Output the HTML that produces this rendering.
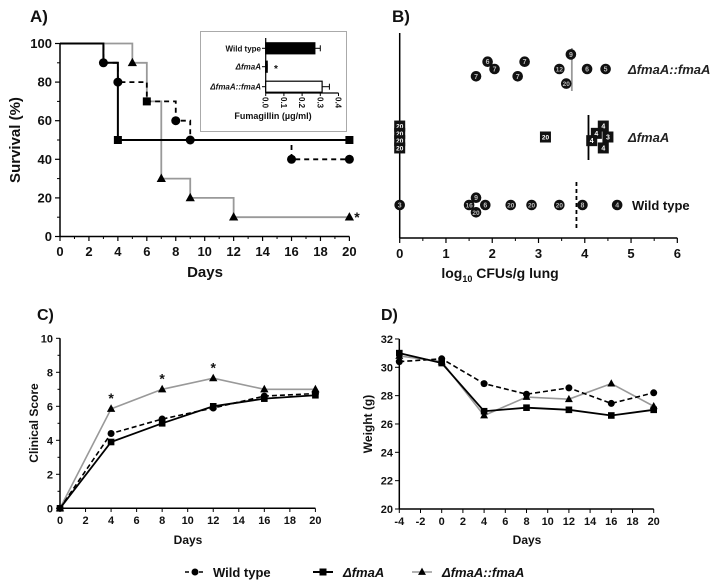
<!DOCTYPE html>
<html><head><meta charset="utf-8">
<style>
html,body{margin:0;padding:0;background:#fff;}
svg{display:block;font-family:"Liberation Sans",Arial,sans-serif;font-weight:bold;}
</style></head>
<body>
<svg id="fig" width="715" height="584" viewBox="0 0 715 584" xmlns="http://www.w3.org/2000/svg"></svg>
<script>
// ---------- Panel A data ----------
const aWtSteps = [[0,100],[3,90],[4,80],[6,70],[8,60],[9,50],[16,40],[20,40]];
const aKoSteps = [[0,100],[3,90],[4,50],[20,50]];
const aCompSteps = [[0,100],[5,90],[6,70],[7,30],[9,20],[12,10],[20,10]];
const aWtMarks = [[3,90],[4,80],[8,60],[9,50],[16,40],[20,40]];
const aKoMarks = [[4,50],[6,70],[20,50]];
const aCompMarks = [[5,90],[7,30],[9,20],[12,10],[20,10]];
const aXTicks = [0,2,4,6,8,10,12,14,16,18,20];
const aYTicks = [0,20,40,60,80,100];
// inset
const insetCats = ["Wild type","ΔfmaA","ΔfmaA::fmaA"];
const insetVals = [0.27,0.005,0.31];
const insetErr = [0.03,0.003,0.04];
const insetTicks = ["0.0","0.1","0.2","0.3","0.4"];
// ---------- Panel B data ----------
const bXTicks = [0,1,2,3,4,5,6];
const bCompX = [3.7,1.9,2.7,2.05,3.45,4.05,4.45,1.65,2.55,3.6];
const bCompRow = [-2,-1,-1,0,0,0,0,1,1,2];
const bCompLbl = ["9","6","7","7","12","6","5","7","7","20"];
const bKoX = [0,0,0,0,3.15,4.4,4.25,4.5,4.15,4.4];
const bKoRow = [-1.5,-0.5,0.5,1.5,0,-1.5,-0.5,0,0.5,1.5];
const bKoLbl = ["20","20","20","20","20","4","4","3","4","4"];
const bWtX = [0,1.65,1.5,1.85,2.4,2.85,3.45,3.95,4.7,1.65];
const bWtRow = [0,-1,0,0,0,0,0,0,0,1];
const bWtLbl = ["3","9","16","6","20","20","20","8","4","20"];
const bMedians = [3.72,4.08,3.82];
// ---------- Panel C data ----------
const cDays = [0,4,8,12,16,20];
const cWt = [0,4.4,5.25,5.9,6.6,6.75];
const cKo = [0,3.9,5.0,6.0,6.45,6.65];
const cComp = [0,5.85,7.0,7.65,7.0,7.0];
const cStars = [4,8,12];
const cYTicks = [0,2,4,6,8,10];
// ---------- Panel D data ----------
const dDays = [-4,0,4,8,12,16,20];
const dWt = [30.4,30.6,28.85,28.1,28.55,27.45,28.2];
const dKo = [31.0,30.3,26.9,27.15,27.0,26.6,27.0];
const dComp = [30.8,30.4,26.6,27.9,27.75,28.85,27.25];
const dXTicks = [-4,-2,0,2,4,6,8,10,12,14,16,18,20];
const dYTicks = [20,22,24,26,28,30,32];

const NS="http://www.w3.org/2000/svg";
const svg=document.getElementById('fig');
function el(tag,attrs,parent,text){
  const e=document.createElementNS(NS,tag);
  for(const k in attrs)e.setAttribute(k,attrs[k]);
  if(text!==undefined)e.textContent=text;
  (parent||svg).appendChild(e);return e;
}
function grp(name){const g=el('g',{});
  
  
  return g;}
function txt(g,x,y,s,size,anchor,extra){
  const t=el('text',Object.assign({x:x,y:y,'font-size':size,'text-anchor':anchor||'middle',fill:'#111'},extra||{}),g,s);
  return t;}
function marker(g,type,x,y,r,fill){
  if(type==='c')return el('circle',{cx:x,cy:y,r:r,fill:fill||'#000'},g);
  if(type==='s')return el('rect',{x:x-r,y:y-r,width:2*r,height:2*r,fill:fill||'#000'},g);
  return el('polygon',{points:`${x},${y-r*1.2} ${x-r*1.1},${y+r*0.8} ${x+r*1.1},${y+r*0.8}`,fill:fill||'#000'},g);
}
function stepPath(pts,sx,sy){let d=`M${sx(pts[0][0])},${sy(pts[0][1])}`;
  for(let i=1;i<pts.length;i++){d+=` H${sx(pts[i][0])} V${sy(pts[i][1])}`;}return d;}
function linePath(xs,ys,sx,sy){return xs.map((x,i)=>(i?'L':'M')+sx(x)+','+sy(ys[i])).join(' ');}

// ===== Panel A =====
(function(){
  const g=grp('panel-a');
  const sx=d=>60+d*14.47, sy=v=>236.5-v*1.93;
  txt(g,30,22,'A)',17,'start',{});
  el('line',{x1:60,y1:sy(100),x2:60,y2:236.5,stroke:'#000','stroke-width':1.5},g);
  el('line',{x1:60,y1:236.5,x2:sx(20),y2:236.5,stroke:'#000','stroke-width':1.5},g);
  aYTicks.forEach(v=>{el('line',{x1:55,x2:60,y1:sy(v),y2:sy(v),stroke:'#000','stroke-width':1.2},g);
    txt(g,52,sy(v)+4.5,String(v),13,'end');});
  for(let v=10;v<100;v+=20)el('line',{x1:57,x2:60,y1:sy(v),y2:sy(v),stroke:'#000'},g);
  aXTicks.forEach(v=>{el('line',{x1:sx(v),x2:sx(v),y1:236.5,y2:241,stroke:'#000','stroke-width':1.2},g);
    txt(g,sx(v),256,String(v),13);});
  for(let v=1;v<20;v+=2)el('line',{x1:sx(v),x2:sx(v),y1:236.5,y2:239,stroke:'#000'},g);
  txt(g,205,277,'Days',15,'middle',{});
  txt(g,0,0,'Survival (%)',15,'middle',{transform:'translate(20,140) rotate(-90)',});
  const c=el('path',{d:stepPath(aCompSteps,sx,sy),fill:'none',stroke:'#999','stroke-width':1.8},g);
  
  const k=el('path',{d:stepPath(aKoSteps,sx,sy),fill:'none',stroke:'#000','stroke-width':2},g);
  
  const w=el('path',{d:stepPath(aWtSteps,sx,sy),fill:'none',stroke:'#000','stroke-width':1.8,'stroke-dasharray':'5,4'},g);
  
  aWtMarks.forEach(p=>marker(g,'c',sx(p[0]),sy(p[1]),4.5));
  aKoMarks.forEach(p=>marker(g,'s',sx(p[0]),sy(p[1]),4));
  aCompMarks.forEach(p=>marker(g,'t',sx(p[0]),sy(p[1]),4.2));
  txt(g,357,222,'*',14,'middle');
  // inset
  const ig=grp('inset-fumagillin');
  el('rect',{x:200.5,y:31.5,width:146,height:100,fill:'#fff',stroke:'#aaa','stroke-width':1},ig);
  const ix=v=>265.7+v*182;
  const iy=[48.3,66.7,86.7];
  el('line',{x1:265.7,x2:265.7,y1:38,y2:93,stroke:'#000','stroke-width':1.2},ig);
  el('line',{x1:265.7,x2:ix(0.4),y1:93,y2:93,stroke:'#000','stroke-width':1.2},ig);
  insetTicks.forEach((t,i)=>{const x=ix(i*0.1);
    el('line',{x1:x,x2:x,y1:93,y2:96,stroke:'#000'},ig);
    txt(ig,0,0,t,8,'start',{transform:`translate(${x-3},97) rotate(90)`});});
  insetCats.forEach((c,i)=>{
    el('line',{x1:262,x2:265.7,y1:iy[i],y2:iy[i],stroke:'#000'},ig);
    txt(ig,261,iy[i]+3,c,8,'end',i>0?{'font-style':'italic'}:{});
    const b=el('rect',{x:265.7,y:iy[i]-5.5,width:Math.max(insetVals[i]*182,1.5),height:11,fill:i===2?'#fff':'#000',stroke:'#000','stroke-width':1.2},ig);
    
    const e1=ix(insetVals[i]+insetErr[i]);
    el('line',{x1:ix(insetVals[i]),x2:e1,y1:iy[i],y2:iy[i],stroke:'#000'},ig);
    el('line',{x1:e1,x2:e1,y1:iy[i]-3,y2:iy[i]+3,stroke:'#000'},ig);
  });
  txt(ig,276,72,'*',10,'middle');
  txt(ig,273,119,'Fumagillin (µg/ml)',9,'middle');
})();

// ===== Panel B =====
(function(){
  const g=grp('panel-b');
  const sx=v=>399.7+v*46.27;
  txt(g,392,22,'B)',17,'start',{});
  el('line',{x1:399.7,x2:399.7,y1:33,y2:238,stroke:'#000','stroke-width':1.5},g);
  el('line',{x1:399.7,x2:sx(6),y1:238,y2:238,stroke:'#000','stroke-width':1.5},g);
  bXTicks.forEach(v=>{el('line',{x1:sx(v),x2:sx(v),y1:238,y2:243,stroke:'#000','stroke-width':1.2},g);
    txt(g,sx(v),258,String(v),13);});
  for(let v=0.5;v<6;v+=1)el('line',{x1:sx(v),x2:sx(v),y1:238,y2:241,stroke:'#000'},g);
  const t=txt(g,500,278,'log',14,'middle',{});
  el('tspan',{'font-size':9,dy:4},t,'10');el('tspan',{dy:-4},t,' CFUs/g lung');
  const rows=[69,137,205], step=7.3;
  el('line',{x1:sx(bMedians[0]),x2:sx(bMedians[0]),y1:48,y2:91,stroke:'#999','stroke-width':1.8},g);
  el('line',{x1:sx(bMedians[1]),x2:sx(bMedians[1]),y1:115,y2:160,stroke:'#000','stroke-width':1.8},g);
  el('line',{x1:sx(bMedians[2]),x2:sx(bMedians[2]),y1:182,y2:228,stroke:'#000','stroke-width':1.8,'stroke-dasharray':'4,3'},g);
  function pts(xs,rs,ls,row,type){xs.forEach((x,i)=>{const cx=sx(x),cy=rows[row]+rs[i]*step;
    const m=marker(g,type,cx,cy,type==='s'?5.5:5.3,'#111');
    
    txt(g,cx,cy+2.5,ls[i],ls[i].length>1?6.5:7,'middle',{fill:type==='s'?'#fff':'#bbb'});});}
  pts(bCompX,bCompRow,bCompLbl,0,'c');
  pts(bKoX,bKoRow,bKoLbl,1,'s');
  pts(bWtX,bWtRow,bWtLbl,2,'c');
  txt(g,628,74,'ΔfmaA::fmaA',13,'start',{'font-style':'italic',fill:'#222'});
  txt(g,628,142,'ΔfmaA',13,'start',{'font-style':'italic',fill:'#222'});
  txt(g,632,210,'Wild type',13,'start');
})();

// ===== Panel C =====
(function(){
  const g=grp('panel-c');
  const sx=d=>60+d*12.77, sy=v=>508.3-v*17;
  txt(g,37,320,'C)',16,'start',{});
  el('line',{x1:60,x2:60,y1:sy(10),y2:508.3,stroke:'#000','stroke-width':1.5},g);
  el('line',{x1:60,x2:sx(20),y1:508.3,y2:508.3,stroke:'#000','stroke-width':1.5},g);
  cYTicks.forEach(v=>{el('line',{x1:56,x2:60,y1:sy(v),y2:sy(v),stroke:'#000'},g);txt(g,53,sy(v)+4,String(v),11,'end');});
  for(let v=1;v<10;v+=2)el('line',{x1:57.5,x2:60,y1:sy(v),y2:sy(v),stroke:'#000'},g);
  for(let v=0;v<=20;v+=2){el('line',{x1:sx(v),x2:sx(v),y1:508.3,y2:512,stroke:'#000'},g);txt(g,sx(v),524,String(v),11);}
  txt(g,188,544,'Days',12,'middle',{});
  txt(g,0,0,'Clinical Score',12,'middle',{transform:'translate(38,423) rotate(-90)',});
  const p1=el('path',{d:linePath(cDays,cComp,sx,sy),fill:'none',stroke:'#999','stroke-width':1.6},g);
  const p2=el('path',{d:linePath(cDays,cKo,sx,sy),fill:'none',stroke:'#000','stroke-width':1.8},g);
  const p3=el('path',{d:linePath(cDays,cWt,sx,sy),fill:'none',stroke:'#000','stroke-width':1.6,'stroke-dasharray':'5,3'},g);
  cDays.forEach((d,i)=>{marker(g,'t',sx(d),sy(cComp[i]),3.8);marker(g,'c',sx(d),sy(cWt[i]),3.5);marker(g,'s',sx(d),sy(cKo[i]),3.3);});
  cStars.forEach(d=>{const i=cDays.indexOf(d);txt(g,sx(d),sy(cComp[i])-6,'*',14);});
})();

// ===== Panel D =====
(function(){
  const g=grp('panel-d');
  const sx=d=>399.3+(d+4)*10.6, sy=v=>509-(v-20)*14.17;
  txt(g,381,320,'D)',16,'start',{});
  el('line',{x1:399.3,x2:399.3,y1:sy(32),y2:509,stroke:'#000','stroke-width':1.5},g);
  el('line',{x1:399.3,x2:sx(20),y1:509,y2:509,stroke:'#000','stroke-width':1.5},g);
  dYTicks.forEach(v=>{el('line',{x1:395,x2:399.3,y1:sy(v),y2:sy(v),stroke:'#000'},g);txt(g,393,sy(v)+4,String(v),11,'end');});
  dXTicks.forEach(v=>{el('line',{x1:sx(v),x2:sx(v),y1:509,y2:513,stroke:'#000'},g);txt(g,sx(v),525,String(v),11);});
  txt(g,527,544,'Days',12,'middle',{});
  txt(g,0,0,'Weight (g)',12,'middle',{transform:'translate(372,424) rotate(-90)',});
  const p1=el('path',{d:linePath(dDays,dComp,sx,sy),fill:'none',stroke:'#999','stroke-width':1.6},g);
  const p2=el('path',{d:linePath(dDays,dKo,sx,sy),fill:'none',stroke:'#000','stroke-width':1.8},g);
  const p3=el('path',{d:linePath(dDays,dWt,sx,sy),fill:'none',stroke:'#000','stroke-width':1.6,'stroke-dasharray':'5,3'},g);
  dDays.forEach((d,i)=>{marker(g,'c',sx(d),sy(dWt[i]),3.5);marker(g,'s',sx(d),sy(dKo[i]),3.3);marker(g,'t',sx(d),sy(dComp[i]),3.6);});
})();

// ===== Legend =====
(function(){
  const g=grp('legend');
  const y=572;
  el('line',{x1:185,x2:205,y1:y,y2:y,stroke:'#000','stroke-width':1.6,'stroke-dasharray':'4,3'},g);
  marker(g,'c',195,y,3.5);
  txt(g,213,y+5,'Wild type',13,'start');
  el('line',{x1:313,x2:333,y1:y,y2:y,stroke:'#000','stroke-width':2},g);
  marker(g,'s',323,y,3.5);
  txt(g,343,y+5,'ΔfmaA',13,'start',{'font-style':'italic'});
  el('line',{x1:412,x2:432,y1:y,y2:y,stroke:'#999','stroke-width':1.5},g);
  marker(g,'t',422,y,3.6);
  txt(g,442,y+5,'ΔfmaA::fmaA',13,'start',{'font-style':'italic'});
})();
</script>
</body></html>
